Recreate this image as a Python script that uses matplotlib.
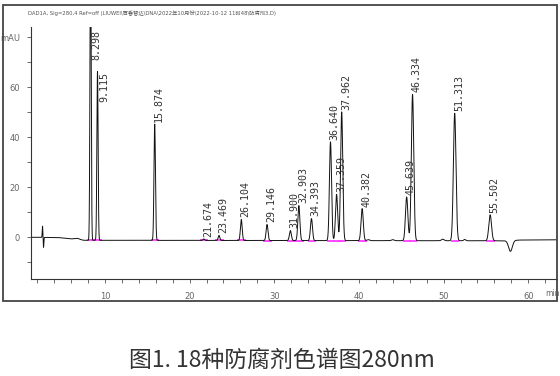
import numpy as np
import matplotlib
matplotlib.use("Agg")
import matplotlib.pyplot as plt
from matplotlib.patches import Rectangle
from matplotlib.ticker import MultipleLocator, FixedLocator, FixedFormatter
from matplotlib.transforms import offset_copy
from matplotlib import font_manager

# ---------------- data ----------------
peak_rt = [8.298, 9.115, 15.874, 21.674, 23.469, 26.104, 29.146, 31.900, 32.903,
           34.393, 36.640, 37.359, 37.962, 40.382, 45.639, 46.334, 51.313, 55.502]
peak_amp = [120.0, 67.5, 46.5, 0.6, 2.0, 8.4, 6.4, 4.0, 14.0,
            8.8, 39.5, 18.5, 51.5, 12.8, 17.5, 58.5, 51.0, 10.4]
peak_labels = ["8.298", "9.115", "15.874", "21.674", "23.469", "26.104", "29.146",
               "31.900", "32.903", "34.393", "36.640", "37.359", "37.962", "40.382",
               "45.639", "46.334", "51.313", "55.502"]

# small unlabelled features: injection disturbance, minor bumps, system dip
minor_rt = [2.62, 2.74, 6.7, 41.1, 44.0, 49.9, 52.5, 57.9]
minor_amp = [4.5, -4.0, 0.5, 0.4, 0.4, 0.6, 0.5, -4.3]
minor_width = [0.035, 0.035, 0.3, 0.15, 0.15, 0.15, 0.12, 0.22]

baseline_t = [1.26, 4.5, 7.5, 57.5, 59.0, 63.4]
baseline_v = [0.0, -0.1, -1.2, -1.4, -1.1, -1.0]

x_ticks = [10, 20, 30, 40, 50, 60]
y_ticks = [0, 20, 40, 60, 80]
y_ticklabels = ["0", "20", "40", "60", "mAU"]

title = ("DAD1A, Sig=280,4 Ref=off (LIUWEI\\百香智达\\DNA\\2022年10月份\\"
         "2022-10-12 11时48\\防腐剂3.D)")
caption = "图1. 18种防腐剂色谱图280nm"

# ---------------- fonts ----------------
names = {f.name for f in font_manager.fontManager.ttflist}
narrow = "Liberation Sans Narrow" if "Liberation Sans Narrow" in names else "DejaVu Sans"
cjk = "Noto Sans CJK SC"

# ---------------- build trace ----------------
xmin, xmax = 1.26, 63.4
ymin, ymax = -16.8, 84.0
t = np.linspace(xmin, xmax, 8000)
base = np.interp(t, baseline_t, baseline_v)
sig = base.copy()
for rt, a in zip(peak_rt, peak_amp):
    s = 0.055 + 0.0019 * rt
    sig += a * np.exp(-0.5 * ((t - rt) / s) ** 2)
for rt, a, w in zip(minor_rt, minor_amp, minor_width):
    sig += a * np.exp(-0.5 * ((t - rt) / w) ** 2)

fig = plt.figure(figsize=(5.6, 3.76), dpi=100)
W, H = 560.0, 376.0
ax = fig.add_axes([31 / W, 1 - 279.3 / H, (557 - 31) / W, (279.3 - 27.3) / H])

# integration baseline markers
for rt in peak_rt:
    b = np.interp(rt, baseline_t, baseline_v)
    ax.plot([rt - 0.45, rt + 0.55], [b, b], color="#ff40ff", lw=1.3,
            solid_capstyle="butt", zorder=1)

ax.plot(t, sig, color="#111111", lw=0.7, zorder=2)

ax.set_xlim(xmin, xmax)
ax.set_ylim(ymin, ymax)
for s in ("top", "right"):
    ax.spines[s].set_visible(False)
for s in ("left", "bottom"):
    ax.spines[s].set_color("#333333")
    ax.spines[s].set_linewidth(0.8)

ax.xaxis.set_major_locator(FixedLocator(x_ticks))
ax.xaxis.set_minor_locator(MultipleLocator(2))
ax.yaxis.set_major_locator(FixedLocator(y_ticks))
ax.yaxis.set_major_formatter(FixedFormatter(y_ticklabels))
ax.yaxis.set_minor_locator(MultipleLocator(10))
ax.tick_params(which="both", direction="out", length=3, width=0.6, color="#555555")
ax.tick_params(axis="x", labelsize=6, labelcolor="#666666", pad=6)
ax.tick_params(axis="y", labelsize=6, labelcolor="#666666", pad=5)
for lab in ax.get_xticklabels() + ax.get_yticklabels():
    lab.set_fontfamily(narrow)

# "min" unit at the right end of the time axis
fig.text(545 / W, 1 - 293 / H, "min", fontsize=5.5, color="#666666",
         family=narrow, ha="left", va="center")

# peak labels
lab_len = 15.0  # label extent in mAU
lab_kw = dict(rotation=90, ha="left", fontsize=7.2, family="DejaVu Sans Mono",
              color="#333333")
prev = None
for rt, a, txt in zip(peak_rt, peak_amp, peak_labels):
    apex = np.interp(rt, baseline_t, baseline_v) + a
    if apex > ymax - 1:
        tr = offset_copy(ax.transData, fig=fig, x=0.5, y=-2, units="points")
        ax.text(rt, ymax, txt, va="top", transform=tr, clip_on=False, **lab_kw)
        span = (ymax - lab_len, ymax)
    else:
        beside = False
        if prev is not None and rt - prev[0] < 1.2 and prev[1] > apex:
            if apex + lab_len > prev[2][0]:
                beside = True
        if beside:
            tr = offset_copy(ax.transData, fig=fig, x=1.5, y=0, units="points")
            ax.text(rt, apex, txt, va="top", transform=tr, **lab_kw)
            span = (apex - lab_len, apex)
        else:
            tr = offset_copy(ax.transData, fig=fig, x=-0.5, y=1.5, units="points")
            ax.text(rt, apex, txt, va="bottom", transform=tr, **lab_kw)
            span = (apex, apex + lab_len)
    prev = (rt, apex, span)

# header and frame
fig.text(152 / W, 1 - 13 / H, title, fontsize=3.8, color="#555555",
         family=[narrow, cjk], ha="center", va="center")
fig.add_artist(Rectangle((3 / W, 1 - 301 / H), 554 / W, 296 / H, transform=fig.transFigure,
                         fill=False, ec="#444444", lw=1.3))

fig.text(282 / W, 1 - 360 / H, caption, fontsize=16.5, color="#333333",
         family=[cjk, "DejaVu Sans"], ha="center", va="center")

fig.savefig("out.png", dpi=100)
